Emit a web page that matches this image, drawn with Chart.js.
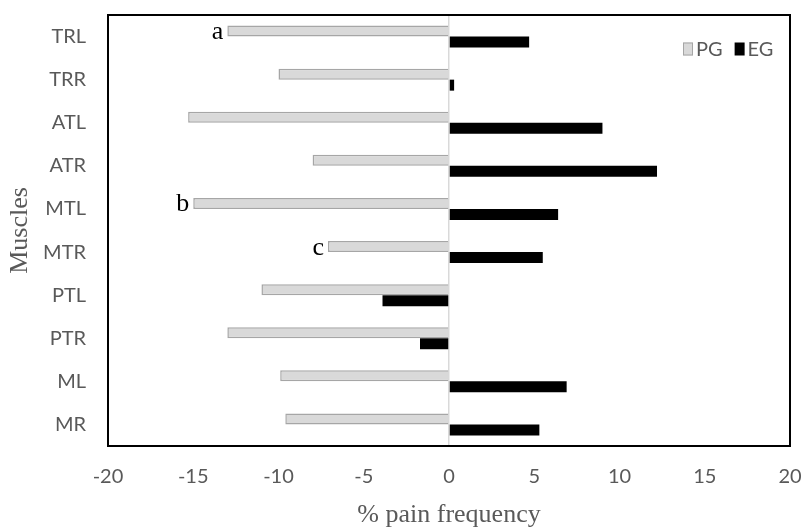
<!DOCTYPE html>
<html>
<head>
<meta charset="utf-8">
<script src="https://cdn.jsdelivr.net/npm/chart.js@4/dist/chart.umd.min.js"></script>
<style>
  html, body { margin: 0; padding: 0; background: #fff; }
  #wrap { width: 802px; height: 528px; }
</style>
</head>
<body>
<div id="wrap"><canvas id="painChart" width="802" height="528"></canvas></div>
<script>
// dati
const muscles = ["TRL", "TRR", "ATL", "ATR", "MTL", "MTR", "PTL", "PTR", "ML", "MR"];
const pgValues = [-13.0, -10.0, -15.3, -8.0, -15.0, -7.1, -11.0, -13.0, -9.9, -9.6];
const egValues = [4.7, 0.3, 9.0, 12.2, 6.4, 5.5, -3.9, -1.7, 6.9, 5.3];
const xTicks = [-20, -15, -10, -5, 0, 5, 10, 15, 20];
const letterMuscles = ["TRL", "MTL", "MTR"];
const letterTexts = ["a", "b", "c"];

const sansFont = "Lato, 'Open Sans', sans-serif";
const serifFont = "'Liberation Serif', 'DejaVu Serif', serif";
const textGray = "#595959";

// --- cornice, lettere e legenda ---
const extrasPlugin = {
  id: "extras",
  afterDatasetsDraw(chart) {
    const ctx = chart.ctx;
    const area = chart.chartArea;
    const xs = chart.scales.x;

    ctx.save();
    ctx.strokeStyle = "#000";
    ctx.lineWidth = 2;
    ctx.strokeRect(area.left, area.top, area.right - area.left, area.bottom - area.top);

    // lettere a, b, c accanto alle barre PG
    const metaPG = chart.getDatasetMeta(0);
    ctx.fillStyle = "#000";
    ctx.font = "26px " + serifFont;
    ctx.textAlign = "right";
    ctx.textBaseline = "alphabetic";
    letterMuscles.forEach((m, i) => {
      const idx = muscles.indexOf(m);
      const bar = metaPG.data[idx];
      ctx.fillText(letterTexts[i], xs.getPixelForValue(pgValues[idx]) - 4, bar.y + 8);
    });

    // legenda in alto a destra
    const items = chart.data.datasets;
    ctx.font = "20px " + sansFont;
    ctx.textAlign = "left";
    ctx.textBaseline = "middle";
    let x = area.right - 107;
    const y = area.top + 34;
    items.forEach(ds => {
      ctx.fillStyle = ds.backgroundColor;
      ctx.fillRect(x, y - 6.5, 10, 13);
      if (ds.borderWidth) {
        ctx.strokeStyle = ds.borderColor;
        ctx.lineWidth = 1;
        ctx.strokeRect(x + 0.5, y - 6, 9, 12);
      }
      ctx.fillStyle = textGray;
      ctx.fillText(ds.label, x + 13, y + 1);
      x += 13 + ctx.measureText(ds.label).width + 12;
    });
    ctx.restore();
  }
};

new Chart(document.getElementById("painChart"), {
  type: "bar",
  data: {
    labels: muscles,
    datasets: [
      {
        label: "PG",
        data: pgValues,
        backgroundColor: "#d9d9d9",
        borderColor: "#a6a6a6",
        borderWidth: 1.5
      },
      {
        label: "EG",
        data: egValues,
        backgroundColor: "#000000",
        borderWidth: 0
      }
    ]
  },
  options: {
    indexAxis: "y",
    responsive: false,
    animation: false,
    categoryPercentage: 0.51,
    barPercentage: 1.0,
    layout: { padding: { left: 0, top: 15, right: 12, bottom: 0 } },
    plugins: {
      legend: { display: false },
      tooltip: { enabled: false }
    },
    scales: {
      x: {
        min: -20,
        max: 20,
        afterFit(scale) {
          scale.height = 82;
          scale.paddingLeft = 0;
          scale.paddingRight = 0;
        },
        afterBuildTicks(scale) { scale.ticks = xTicks.map(v => ({ value: v })); },
        grid: {
          drawTicks: false,
          color: c => (c.tick && c.tick.value === 0 ? "#d9d9d9" : "rgba(0,0,0,0)"),
          lineWidth: 1.5
        },
        border: { display: false },
        ticks: {
          padding: 19,
          color: textGray,
          font: { family: sansFont, size: 20 }
        },
        title: {
          display: true,
          text: "% pain frequency",
          color: textGray,
          font: { family: serifFont, size: 26, lineHeight: 1.0 },
          padding: { top: 0, bottom: 0 }
        }
      },
      y: {
        afterFit(scale) {
          scale.width = 108;
          scale.paddingTop = 0;
          scale.paddingBottom = 0;
        },
        grid: { display: false, drawTicks: false },
        border: { display: false },
        ticks: {
          padding: 22,
          color: textGray,
          font: { family: sansFont, size: 20 }
        },
        title: {
          display: true,
          text: "Muscles",
          color: textGray,
          font: { family: serifFont, size: 26, lineHeight: 1.0 },
          padding: { top: 7, bottom: 0 }
        }
      }
    }
  },
  plugins: [extrasPlugin]
});
</script>
</body>
</html>
